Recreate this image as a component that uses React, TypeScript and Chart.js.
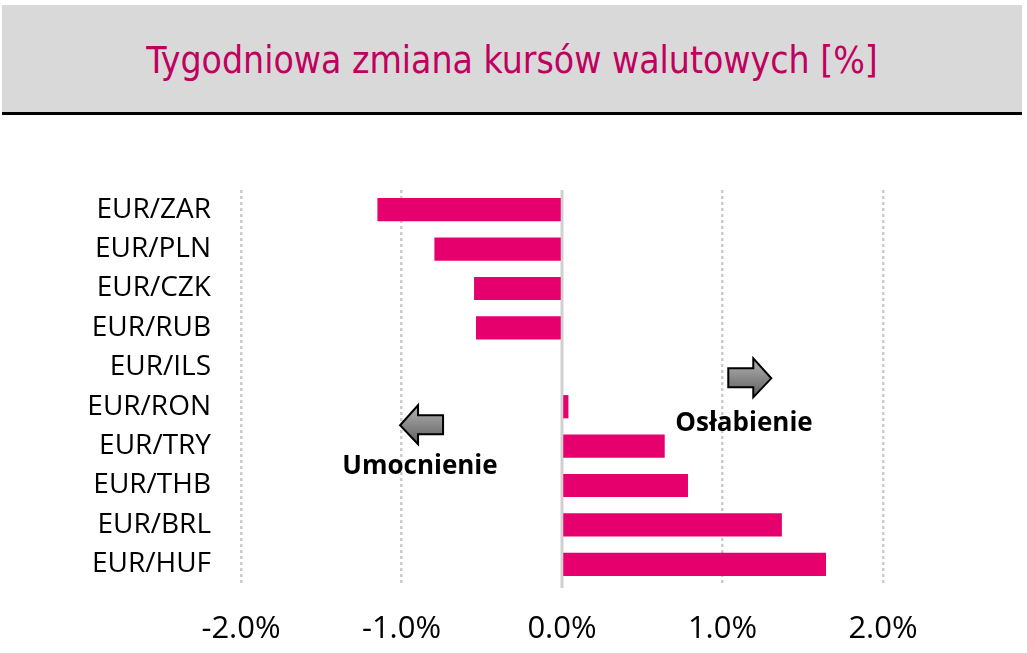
import React, { useEffect, useRef } from "react";
import { Chart, registerables } from "chart.js";

Chart.register(...registerables);

const TITLE = "Tygodniowa zmiana kursów walutowych [%]";
const categories = ["EUR/ZAR", "EUR/PLN", "EUR/CZK", "EUR/RUB", "EUR/ILS", "EUR/RON", "EUR/TRY", "EUR/THB", "EUR/BRL", "EUR/HUF"];
const weeklyChange = [-1.15, -0.795, -0.548, -0.536, 0, 0.04, 0.64, 0.785, 1.37, 1.645];
const xTicks = [-2, -1, 0, 1, 2];

const BAR_COLOR = "#E6006E";
const GRID_COLOR = "#CCCCCC";
const FONT = "'Open Sans', 'Noto Sans', sans-serif";

// annotation anchors in data coordinates (x value, category index)
const annotations = {
  rightArrow: { x: 1.17, y: 4.28 },
  leftArrow: { x: -0.875, y: 5.47 },
  weakText: { x: 1.134, y: 5.42, text: "Osłabienie" },
  strongText: { x: -0.885, y: 6.51, text: "Umocnienie" },
};

function drawArrow(ctx: CanvasRenderingContext2D, cx: number, cy: number, dir: number) {
  const pts = [
    [-21.5, -10],
    [3.5, -10],
    [3.5, -20],
    [21.5, 0],
    [3.5, 19],
    [3.5, 9],
    [-21.5, 9],
  ];
  ctx.save();
  ctx.beginPath();
  pts.forEach(([px, py], i) => {
    const x = cx + px * dir;
    const y = cy + py;
    if (i === 0) ctx.moveTo(x, y);
    else ctx.lineTo(x, y);
  });
  ctx.closePath();
  const g = ctx.createLinearGradient(cx, cy - 20, cx, cy + 19);
  g.addColorStop(0, "#B4B4B4");
  g.addColorStop(1, "#5E5E5E");
  ctx.fillStyle = g;
  ctx.fill();
  ctx.lineWidth = 2;
  ctx.strokeStyle = "#000";
  ctx.lineJoin = "miter";
  ctx.stroke();
  ctx.restore();
}

const annotationPlugin = {
  id: "annotationPlugin",
  beforeDatasetsDraw(chart: any) {
    const { ctx, scales, chartArea } = chart;
    const x0 = scales.x.getPixelForValue(0);
    ctx.save();
    ctx.strokeStyle = "#D0D0D0";
    ctx.lineWidth = 3;
    ctx.beginPath();
    ctx.moveTo(x0, chartArea.top);
    ctx.lineTo(x0, chartArea.bottom + 4);
    ctx.stroke();
    ctx.restore();
  },
  afterDraw(chart: any) {
    const { ctx, scales } = chart;
    const xs = scales.x;
    const ys = scales.y;
    const ra = annotations.rightArrow;
    const la = annotations.leftArrow;
    drawArrow(ctx, xs.getPixelForValue(ra.x), ys.getPixelForValue(ra.y), 1);
    drawArrow(ctx, xs.getPixelForValue(la.x), ys.getPixelForValue(la.y), -1);
    ctx.save();
    ctx.fillStyle = "#000";
    ctx.font = `bold 26px ${FONT}`;
    ctx.textAlign = "center";
    ctx.textBaseline = "middle";
    for (const t of [annotations.weakText, annotations.strongText]) {
      ctx.fillText(t.text, xs.getPixelForValue(t.x), ys.getPixelForValue(t.y));
    }
    ctx.restore();
  },
};

export default function App() {
  const ref = useRef<HTMLCanvasElement | null>(null);
  useEffect(() => {
    if (!ref.current) return;
    const chart = new Chart(ref.current, {
      type: "bar",
      data: {
        labels: categories,
        datasets: [
          {
            data: weeklyChange,
            backgroundColor: BAR_COLOR,
            borderWidth: 0,
            barPercentage: 0.59,
            categoryPercentage: 1,
          },
        ],
      },
      options: {
        indexAxis: "y",
        animation: false,
        responsive: false,
        devicePixelRatio: 1,
        layout: { padding: { left: 0, right: 144, top: 190, bottom: 0 } },
        plugins: { legend: { display: false }, tooltip: { enabled: false }, title: { display: false } },
        scales: {
          x: {
            min: xTicks[0],
            max: xTicks[xTicks.length - 1],
            afterFit: (s: any) => {
              s.height = 69;
            },
            afterBuildTicks: (s: any) => {
              s.ticks = xTicks.map((v) => ({ value: v }));
            },
            ticks: {
              padding: 27,
              color: "#000",
              font: { family: FONT, size: 31 },
              callback: (v: any) => Number(v).toFixed(1) + "%",
              maxRotation: 0,
            },
            grid: {
              drawTicks: false,
              lineWidth: 2.5,
              color: (c: any) => (c.tick && c.tick.value === 0 ? "rgba(0,0,0,0)" : GRID_COLOR),
            },
            border: { display: false, dash: [3, 3] },
          },
          y: {
            afterFit: (s: any) => {
              s.width = 241;
            },
            ticks: {
              padding: 30,
              color: "#000",
              font: { family: FONT, size: 28 },
            },
            grid: { display: false, drawTicks: false },
            border: { display: false },
          },
        },
      },
      plugins: [annotationPlugin],
    } as any);
    return () => chart.destroy();
  }, []);

  return (
    <div style={{ position: "fixed", left: 0, top: 0, width: 1027, height: 653, background: "#fff", overflow: "hidden" }}>
      <div
        style={{
          position: "absolute",
          left: 2,
          top: 5,
          width: 1020,
          height: 110,
          background: "#D9D9D9",
          borderBottom: "3px solid #000",
          display: "flex",
          alignItems: "center",
          justifyContent: "center",
          color: "#C0005F",
          fontFamily: "'DejaVu Sans Condensed', 'DejaVu Sans', sans-serif",
          fontSize: 37,
          lineHeight: 1,
          paddingTop: 4,
          boxSizing: "border-box",
        }}
      >
        {TITLE}
      </div>
      <canvas ref={ref} width={1027} height={653} style={{ position: "absolute", left: 0, top: 0, width: 1027, height: 653 }} />
    </div>
  );
}
